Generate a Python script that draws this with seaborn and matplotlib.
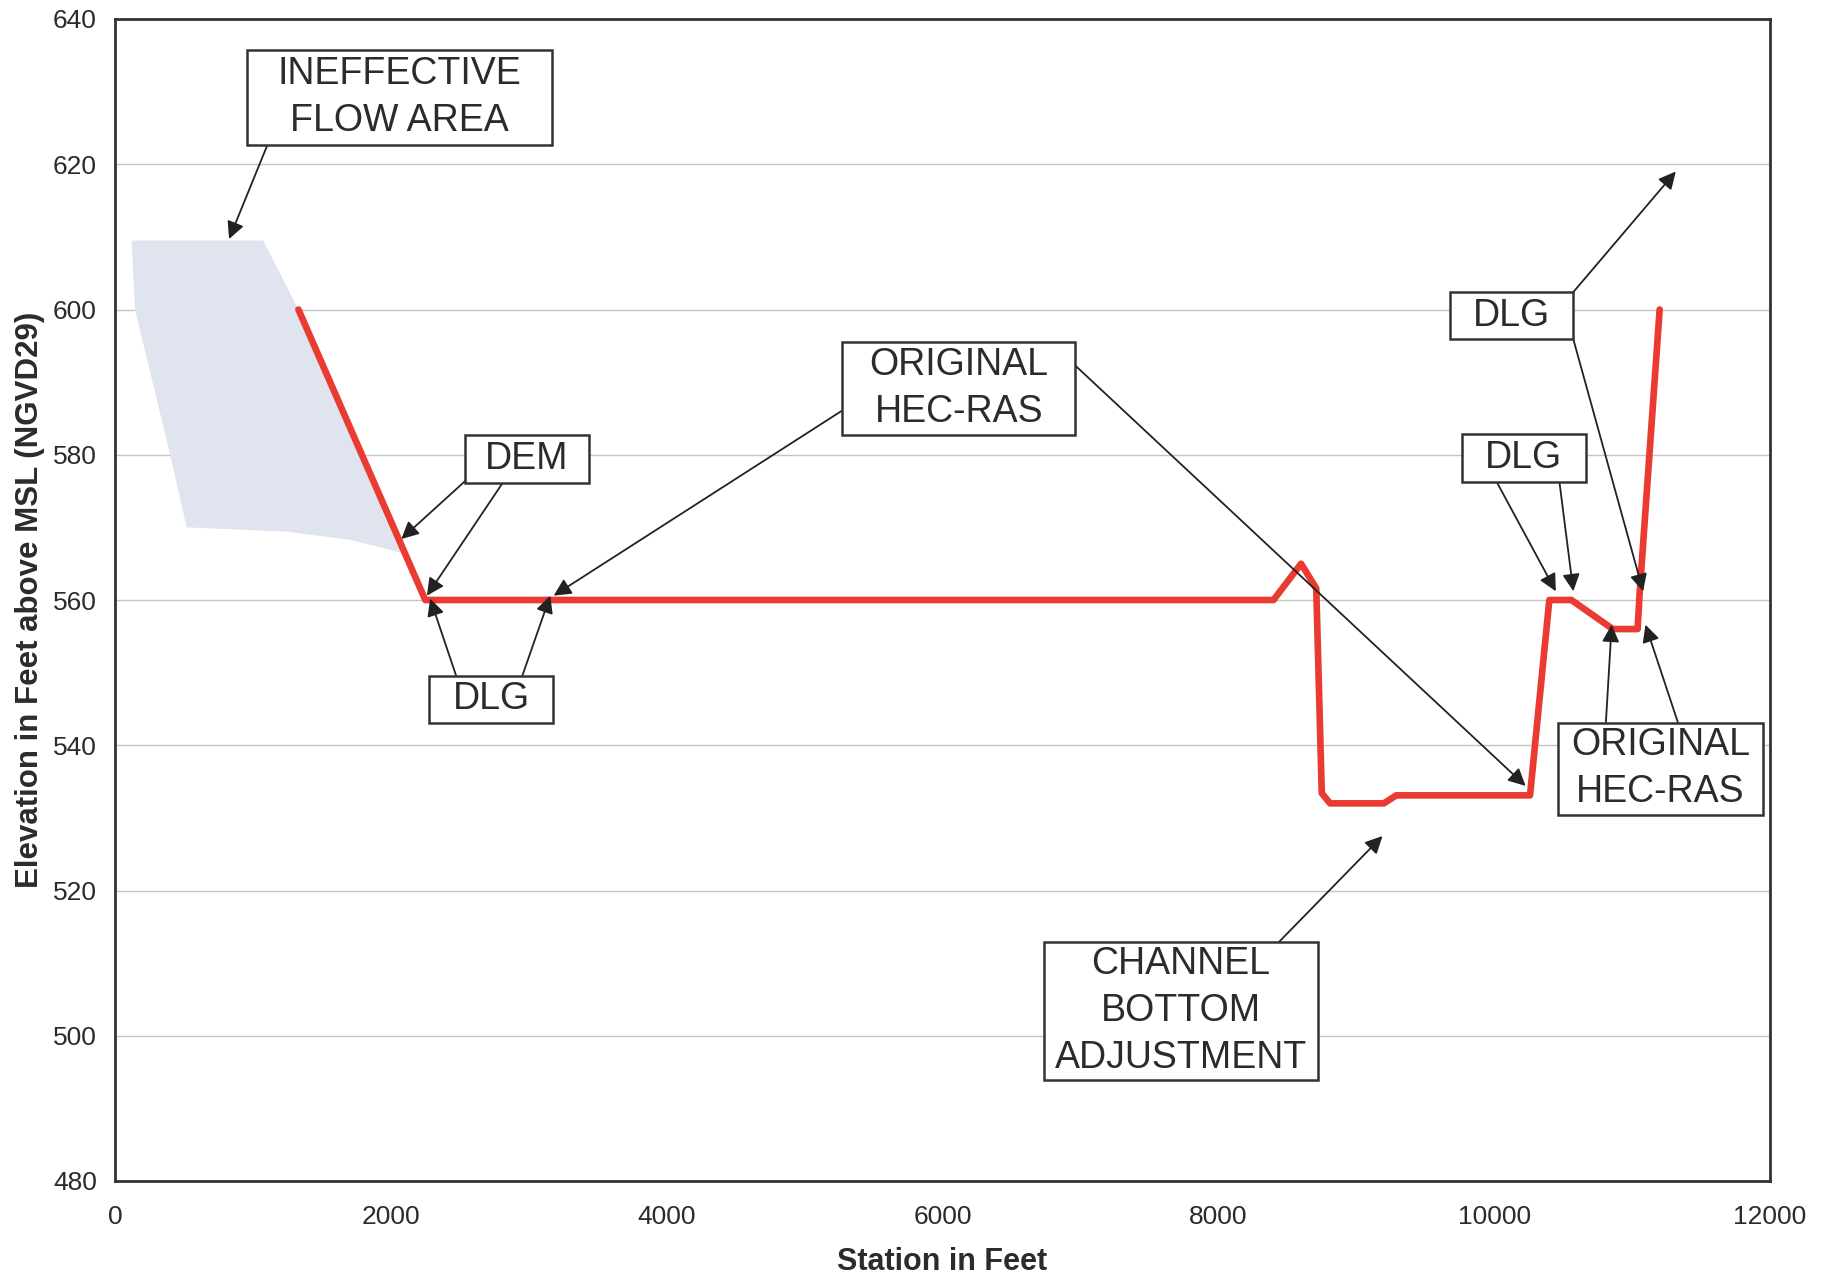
import matplotlib
matplotlib.use("Agg")
import matplotlib.pyplot as plt
import matplotlib.patches as mpatches
import seaborn as sns
import pandas as pd

# ground profile (station in feet, elevation in feet)
station = [1330, 2250, 8400, 8600, 8710, 8750, 8810, 9200, 9290, 10260, 10400,
           10560, 10860, 11040, 11055, 11200]
elevation = [600, 560, 560, 565, 561.6, 533.4, 532, 532, 533.1, 533.1, 560,
             560, 556, 556, 561, 600]

# ineffective flow area outline
ineff_x = [120, 1075, 1330, 2080, 1700, 1250, 520, 400, 145]
ineff_y = [609.5, 609.5, 600, 566.5, 568.3, 569.4, 570, 580, 600]

# label boxes: text, x0, x1, y_top, y_bottom
box_text = ["INEFFECTIVE\nFLOW AREA", "DEM", "DLG", "ORIGINAL\nHEC-RAS", "DLG",
            "DLG", "ORIGINAL\nHEC-RAS", "CHANNEL\nBOTTOM\nADJUSTMENT"]
box_x0 = [954, 2540, 2279, 5274, 9680, 9764, 10464, 6734]
box_x1 = [3165, 3435, 3173, 6962, 10574, 10667, 11949, 8726]
box_top = [635.7, 582.7, 549.6, 595.5, 602.4, 582.9, 543.1, 512.9]
box_bot = [622.7, 576.1, 543.1, 582.7, 595.9, 576.3, 530.4, 493.9]

# arrows: tail -> head
arrow_tail = [(1106, 622.7), (2540, 576.4), (2810, 576.1), (2473, 549.6),
              (2954, 549.6), (5274, 586.1), (6962, 592.3), (10574, 602.4),
              (10574, 595.9), (10017, 576.3), (10473, 576.3), (10810, 543.1),
              (11333, 543.1), (8439, 512.9)]
arrow_head = [(827, 609.7), (2076, 568.4), (2262, 560.6), (2285, 560.2),
              (3156, 560.6), (3181, 560.6), (10228, 534.4), (11317, 619.0),
              (11080, 561.2), (10447, 561.2), (10574, 561.2), (10852, 556.6),
              (11097, 556.6), (9190, 527.5)]

x_ticks = list(range(0, 12001, 2000))
y_ticks = list(range(480, 641, 20))

sns.set_style("white")
plt.rcParams['font.family'] = ['Liberation Sans', 'DejaVu Sans']

ink = '#2b2b2b'
fig = plt.figure(figsize=(18.28, 12.75), dpi=100)
ax = fig.add_axes([115 / 1828, 1 - 1181 / 1275, 1655 / 1828, 1162 / 1275])

# ineffective flow area
ax.fill(ineff_x, ineff_y, facecolor='#dfe4ef', edgecolor='none', zorder=1)

profile = pd.DataFrame({'station': station, 'elevation': elevation})
sns.lineplot(data=profile, x='station', y='elevation', sort=False,
             color='#ea3b33', lw=4.8, solid_capstyle='round',
             solid_joinstyle='round', ax=ax, zorder=3)

for tail, head in zip(arrow_tail, arrow_head):
    ax.annotate('', xy=head, xytext=tail,
                arrowprops=dict(arrowstyle='-|>', color='#222222', lw=1.3,
                                mutation_scale=26, shrinkA=0, shrinkB=0),
                zorder=4)

for txt, x0, x1, yt, yb in zip(box_text, box_x0, box_x1, box_top, box_bot):
    ax.add_patch(mpatches.Rectangle((x0, yb), x1 - x0, yt - yb,
                                    facecolor='white', edgecolor='#333333',
                                    lw=1.8, zorder=5))
    ax.text((x0 + x1) / 2, (yt + yb) / 2, txt, ha='center', va='center',
            fontsize=27, color=ink, linespacing=1.4, zorder=6)

ax.set_xlim(0, 12000)
ax.set_ylim(480, 640)
ax.set_xticks(x_ticks)
ax.set_yticks(y_ticks)
ax.yaxis.grid(True, color='#c4c4c4', lw=1.0)
ax.xaxis.grid(False)
ax.set_axisbelow(True)
ax.tick_params(axis='both', direction='out', length=4, width=1,
               color='#999999', labelsize=19, labelcolor=ink)
ax.tick_params(axis='y', pad=9)
ax.tick_params(axis='x', pad=13)
for sp in ax.spines.values():
    sp.set_color('#333333')
    sp.set_linewidth(2)

ax.set_xlabel('Station in Feet', fontsize=22, fontweight='bold', color=ink,
              labelpad=13)
ax.set_ylabel('Elevation in Feet above MSL (NGVD29)', fontsize=22.5,
              fontweight='bold', color=ink, labelpad=6)

fig.savefig('out.png', dpi=100)
